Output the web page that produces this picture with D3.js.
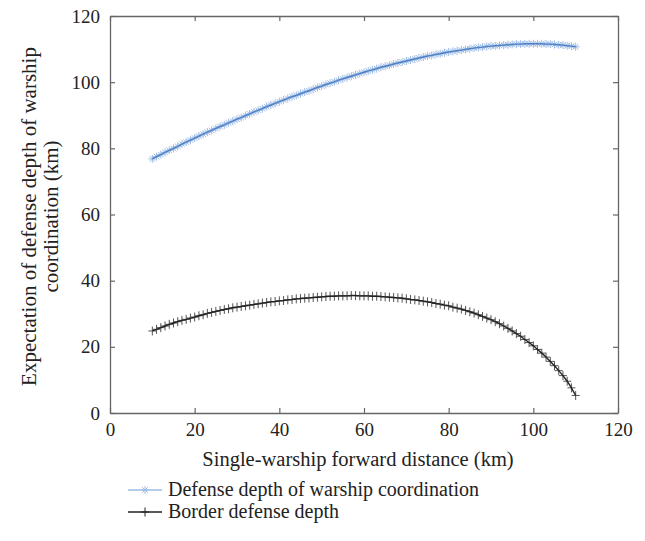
<!DOCTYPE html>
<html>
<head>
<meta charset="utf-8">
<script src="https://cdn.jsdelivr.net/npm/d3@7"></script>
<style>
  body { margin: 0; background: #fff; }
  text { font-family: "Liberation Serif", "DejaVu Serif", serif; fill: #222; }
</style>
</head>
<body>
<div class="chart"></div>
<script>
var svgWidth = 645;
var svgHeight = 541;

var margin = { top: 16, right: 27, bottom: 128, left: 110 };
var width = svgWidth - margin.left - margin.right;
var height = svgHeight - margin.top - margin.bottom;

// forward distance, km (10..110, step 1)
var distance = d3.range(10, 111);

var coordDepth = [
  76.8, 77.5, 78.1, 78.8, 79.4, 80.0, 80.6, 81.3, 81.9, 82.5,
  83.1, 83.7, 84.3, 84.9, 85.4, 86.0, 86.6, 87.1, 87.7, 88.2,
  88.8, 89.3, 89.9, 90.4, 91.0, 91.5, 92.0, 92.6, 93.1, 93.6,
  94.1, 94.6, 95.1, 95.6, 96.0, 96.5, 97.0, 97.4, 97.9, 98.4,
  98.8, 99.3, 99.7, 100.1, 100.6, 101.0, 101.4, 101.8, 102.2, 102.6,
  103.0, 103.4, 103.7, 104.1, 104.5, 104.8, 105.1, 105.5, 105.8, 106.1,
  106.4, 106.7, 107.0, 107.3, 107.6, 107.9, 108.1, 108.4, 108.6, 108.9,
  109.1, 109.3, 109.5, 109.7, 109.9, 110.1, 110.3, 110.5, 110.6, 110.8,
  110.9, 111.0, 111.1, 111.2, 111.3, 111.4, 111.5, 111.5, 111.6, 111.6,
  111.6, 111.6, 111.6, 111.5, 111.5, 111.4, 111.3, 111.2, 111.0, 110.9,
  110.7
];

var borderDepth = [
  24.8, 25.3, 25.8, 26.3, 26.8, 27.2, 27.6, 28.0, 28.3, 28.7,
  29.0, 29.4, 29.7, 30.1, 30.4, 30.7, 31.0, 31.3, 31.5, 31.8,
  32.0, 32.2, 32.4, 32.6, 32.8, 33.0, 33.2, 33.4, 33.6, 33.7,
  33.9, 34.0, 34.2, 34.3, 34.5, 34.6, 34.7, 34.8, 34.9, 35.0,
  35.1, 35.2, 35.3, 35.3, 35.4, 35.4, 35.4, 35.5, 35.5, 35.4,
  35.4, 35.4, 35.3, 35.3, 35.2, 35.1, 35.0, 34.9, 34.8, 34.7,
  34.5, 34.3, 34.2, 34.0, 33.8, 33.6, 33.4, 33.1, 32.9, 32.6,
  32.4, 32.0, 31.7, 31.4, 31.0, 30.6, 30.2, 29.7, 29.2, 28.7,
  28.2, 27.6, 27.0, 26.3, 25.6, 24.8, 24.0, 23.2, 22.2, 21.3,
  20.3, 19.2, 18.1, 16.9, 15.6, 14.3, 12.8, 11.3, 9.6, 7.6,
  5.3
];

var tickValues = [0, 20, 40, 60, 80, 100, 120];
var seriesNames = ["Defense depth of warship coordination", "Border defense depth"];

var svg = d3.select(".chart")
  .append("svg")
  .attr("width", svgWidth)
  .attr("height", svgHeight);

var chartGroup = svg.append("g")
  .attr("transform", `translate(${margin.left}, ${margin.top})`);

var xScale = d3.scaleLinear().domain([0, 120]).range([0, width]);
var yScale = d3.scaleLinear().domain([0, 120]).range([height, 0]);

var axisColor = "#666";

// axes with inward ticks, box on all sides
function styleAxis(g) {
  g.selectAll("path").attr("stroke", axisColor).attr("stroke-width", 1.3);
  g.selectAll("line").attr("stroke", axisColor).attr("stroke-width", 1.2);
  g.selectAll("text").style("font-size", "19px").attr("fill", "#222");
}

chartGroup.append("g")
  .attr("transform", `translate(0, ${height})`)
  .call(d3.axisBottom(xScale).tickValues(tickValues).tickSizeInner(-5).tickSizeOuter(0).tickPadding(10))
  .call(styleAxis);

chartGroup.append("g")
  .call(d3.axisTop(xScale).tickValues(tickValues).tickSizeInner(-5).tickSizeOuter(0).tickFormat(""))
  .call(styleAxis);

chartGroup.append("g")
  .call(d3.axisLeft(yScale).tickValues(tickValues).tickSizeInner(-5).tickSizeOuter(0).tickPadding(10))
  .call(styleAxis);

chartGroup.append("g")
  .attr("transform", `translate(${width}, 0)`)
  .call(d3.axisRight(yScale).tickValues(tickValues).tickSizeInner(-5).tickSizeOuter(0).tickFormat(""))
  .call(styleAxis);

var coordData = distance.map((d, i) => ({ x: d, y: coordDepth[i] }));
var borderData = distance.map((d, i) => ({ x: d, y: borderDepth[i] }));

var line = d3.line().x(d => xScale(d.x)).y(d => yScale(d.y));

var starPath = "M-4,0H4M0,-4V4M-2.8,-2.8L2.8,2.8M-2.8,2.8L2.8,-2.8";
var plusPath = "M-4,0H4M0,-4.5V4.5";

// coordination series: light blue stars, blue line
chartGroup.append("g")
  .selectAll("path")
  .data(coordData)
  .enter()
  .append("path")
  .attr("transform", d => `translate(${xScale(d.x)}, ${yScale(d.y)})`)
  .attr("d", starPath)
  .attr("stroke", "#9dbce6")
  .attr("stroke-width", 1)
  .attr("fill", "none");

chartGroup.append("path")
  .datum(coordData)
  .attr("d", line)
  .attr("fill", "none")
  .attr("stroke", "#4f7fc4")
  .attr("stroke-width", 1.4);

// border series: black plus markers
chartGroup.append("g")
  .selectAll("path")
  .data(borderData)
  .enter()
  .append("path")
  .attr("transform", d => `translate(${xScale(d.x)}, ${yScale(d.y)})`)
  .attr("d", plusPath)
  .attr("stroke", "#555")
  .attr("stroke-width", 1)
  .attr("fill", "none");

chartGroup.append("path")
  .datum(borderData)
  .attr("d", line)
  .attr("fill", "none")
  .attr("stroke", "#222")
  .attr("stroke-width", 1.4);

// axis titles
chartGroup.append("text")
  .attr("x", width / 2 - 6)
  .attr("y", height + 53)
  .attr("text-anchor", "middle")
  .style("font-size", "20.5px")
  .text("Single-warship forward distance (km)");

var yTitle = chartGroup.append("text")
  .attr("transform", `translate(${-74}, ${height / 2 + 2}) rotate(-90)`)
  .attr("text-anchor", "middle")
  .style("font-size", "21px");
yTitle.append("tspan").attr("x", 0).attr("y", 0).text("Expectation of defense depth of warship");
yTitle.append("tspan").attr("x", 0).attr("y", 22).text("coordination (km)");

// legend
var legend = svg.append("g").attr("transform", "translate(128, 490)");
var legendStyles = [["#9dbce6", starPath], ["#222", plusPath]];
seriesNames.forEach(function(name, i) {
  var row = legend.append("g").attr("transform", `translate(0, ${i * 22})`);
  row.append("line")
    .attr("x1", 0).attr("x2", 34).attr("y1", 0).attr("y2", 0)
    .attr("stroke", legendStyles[i][0]).attr("stroke-width", 1.3);
  row.append("path")
    .attr("transform", "translate(17, 0)")
    .attr("d", legendStyles[i][1])
    .attr("stroke", legendStyles[i][0])
    .attr("fill", "none");
  row.append("text")
    .attr("x", 40)
    .attr("y", 6)
    .style("font-size", "20px")
    .text(name);
});
</script>
</body>
</html>
